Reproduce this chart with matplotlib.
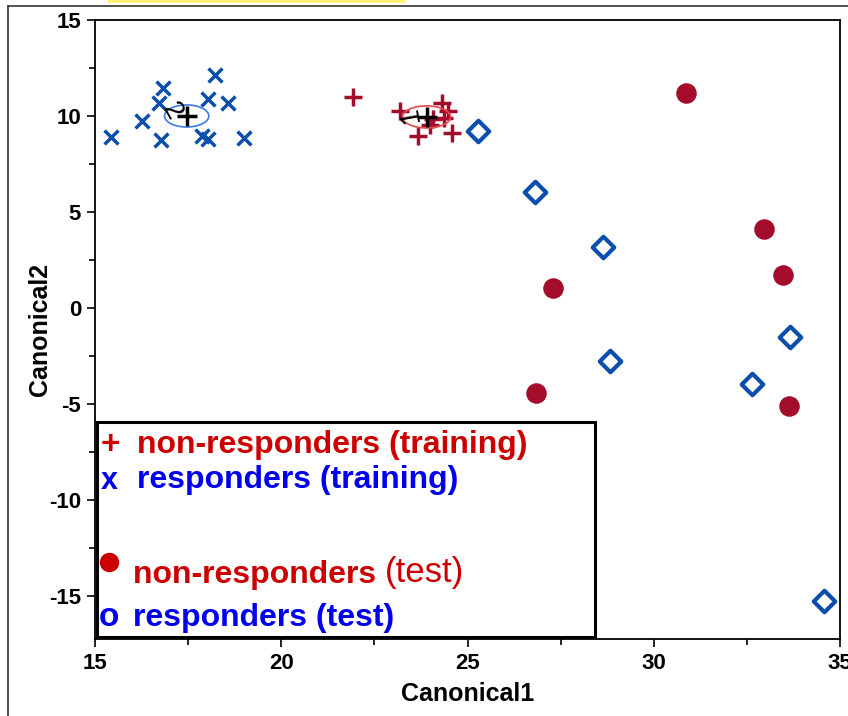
import matplotlib.pyplot as plt
import numpy as np
from matplotlib.patches import Ellipse, Rectangle
from matplotlib.lines import Line2D

plt.rcParams['font.family'] = ['Liberation Sans', 'DejaVu Sans']
plt.rcParams['axes.unicode_minus'] = False

# responders (training)
resp_train_x = [15.42, 16.25, 16.82, 16.73, 16.76, 18.22, 18.03, 18.58, 17.88, 18.03, 19.0]
resp_train_y = [8.91, 9.74, 11.44, 10.66, 8.75, 12.14, 10.90, 10.66, 8.96, 8.82, 8.87]
# non-responders (training)
nonresp_train_x = [21.93, 23.19, 23.67, 24.32, 24.48, 24.37, 24.07, 24.58, 24.0]
nonresp_train_y = [10.99, 10.26, 8.96, 10.68, 10.26, 9.90, 9.84, 9.11, 9.55]
# non-responders (test)
nonresp_test_x = [30.87, 32.96, 33.47, 27.30, 26.84, 33.63]
nonresp_test_y = [11.20, 4.11, 1.72, 1.04, -4.43, -5.10]
# responders (test)
resp_test_x = [25.28, 26.81, 28.64, 28.83, 33.66, 32.64, 34.57]
resp_test_y = [9.22, 6.04, 3.18, -2.76, -1.51, -3.96, -15.26]

# class centroids
cent_x = [23.90, 17.46]
cent_y = [9.95, 10.0]
cent_lab = ["1", "2"]

red = "#A30D2B"
blue = "#0B4EAE"

fig = plt.figure(figsize=(8.48, 7.16), dpi=100)
ax = fig.add_axes([95 / 848, 1 - 639 / 716, 745 / 848, 619 / 716])

ax.scatter(resp_train_x, resp_train_y, marker="x", s=100, color=blue, linewidths=2.5, zorder=3)
ax.scatter(nonresp_train_x, nonresp_train_y, marker="+", s=150, color=red, linewidths=2.5, zorder=3)
ax.scatter(nonresp_test_x, nonresp_test_y, marker="o", s=190, color=red, zorder=3)
ax.scatter(resp_test_x, resp_test_y, marker="D", s=120, facecolor="white", edgecolor=blue,
           linewidths=3, zorder=3)

ax.add_patch(Ellipse((cent_x[0], cent_y[0]), 1.29, 1.15, fill=False, ec="#E8474F", lw=1.2, zorder=4))
ax.add_patch(Ellipse((cent_x[1], cent_y[1]), 1.19, 1.15, fill=False, ec="#3B7BEA", lw=1.2, zorder=4))
ax.scatter(cent_x, cent_y, marker="+", s=220, color="black", linewidths=2.5, zorder=5)
ax.text(cent_x[0] - 0.05, cent_y[0] + 0.1, cent_lab[0], rotation=100, fontsize=20,
        ha="right", va="center", zorder=5)
ax.text(cent_x[1] - 0.0, cent_y[1] + 0.25, cent_lab[1], rotation=-60, fontsize=20,
        ha="right", va="center", zorder=5)

ax.set_xlim(15, 35)
ax.set_ylim(-17.25, 15)
ax.set_xticks([15, 20, 25, 30, 35])
ax.set_xticks(np.arange(17.5, 35, 5), minor=True)
ax.set_yticks([-15, -10, -5, 0, 5, 10, 15])
ax.set_yticks(np.arange(-12.5, 15, 5), minor=True)
ax.tick_params(which="major", length=6, width=1.2, labelsize=16, pad=4)
ax.tick_params(which="minor", length=4, width=1.2)
for lab in ax.get_xticklabels() + ax.get_yticklabels():
    lab.set_fontweight("bold")
for s in ax.spines.values():
    s.set_linewidth(1.3)
ax.set_xlabel("Canonical1", fontsize=18, fontweight="bold", labelpad=6)
ax.set_ylabel("Canonical2", fontsize=18, fontweight="bold", labelpad=-2)

# legend box
ax.add_patch(Rectangle((0.003, 0.003), 0.668, 0.347, transform=ax.transAxes, fill=False,
                       ec="black", lw=2.2, zorder=6))
lr = "#CC0000"
lb = "#0000EE"
ax.text(0.008, 0.313, "+", transform=ax.transAxes, color=lr, fontsize=24, fontweight="bold", va="center")
ax.text(0.056, 0.313, "non-responders (training)", transform=ax.transAxes, color=lr,
        fontsize=23, fontweight="bold", va="center")
ax.text(0.008, 0.255, "x", transform=ax.transAxes, color=lb, fontsize=22, fontweight="bold", va="center")
ax.text(0.056, 0.257, "responders (training)", transform=ax.transAxes, color=lb,
        fontsize=23, fontweight="bold", va="center")
ax.plot([0.019], [0.124], marker="o", ms=13, color=lr, transform=ax.transAxes, zorder=7)
t1 = ax.text(0.051, 0.104, "non-responders ", transform=ax.transAxes, color=lr,
             fontsize=23, fontweight="bold", va="center")
fig.canvas.draw()
bb = t1.get_window_extent().transformed(ax.transAxes.inverted())
ax.text(bb.x1, 0.108, "(test)", transform=ax.transAxes, color=lr, fontsize=25, va="center")
ax.text(0.005, 0.034, "o", transform=ax.transAxes, color=lb, fontsize=24, fontweight="bold", va="center")
ax.text(0.051, 0.034, "responders (test)", transform=ax.transAxes, color=lb,
        fontsize=23, fontweight="bold", va="center")

# outer frame and highlight
fig.add_artist(Line2D([8 / 848, 8 / 848], [0, 1 - 6 / 716], transform=fig.transFigure, color="#333333", lw=1.2))
fig.add_artist(Line2D([8 / 848, 1], [1 - 6 / 716, 1 - 6 / 716], transform=fig.transFigure, color="#333333", lw=1.2))
fig.add_artist(Rectangle((108 / 848, 1 - 3 / 716), 297 / 848, 3 / 716, transform=fig.transFigure,
                         color="#FFF176", lw=0))

fig.savefig("out.png", dpi=100)
